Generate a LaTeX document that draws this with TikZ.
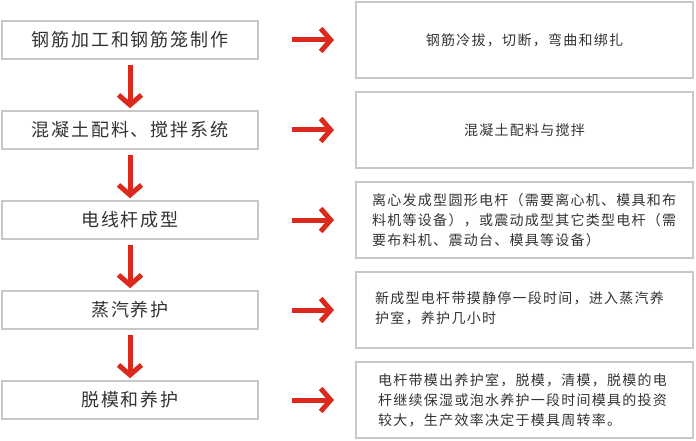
\documentclass[tikz,border=0pt]{standalone}
\usepackage{fontspec}
\setmainfont{Noto Sans CJK SC}
\newfontfamily\stepfont[LetterSpace=10]{Noto Sans CJK SC}
\newfontfamily\notefont[LetterSpace=9]{Noto Sans CJK SC}
\usepackage{xcolor}
\usepackage{tikz}
\usetikzlibrary{positioning, arrows.meta}

\definecolor{arrowred}{RGB}{220,41,30}
\definecolor{boxgray}{RGB}{200,200,200}
\definecolor{textgray}{RGB}{51,51,51}

\begin{document}
\begin{tikzpicture}[x=1pt,y=-1pt,
  procbox/.style={draw=boxgray, line width=2pt, minimum width=256pt, minimum height=37.5pt,
    inner sep=0pt, outer sep=0pt, text=textgray, font=\stepfont\fontsize{18}{20}\selectfont},
  notebox/.style={draw=boxgray, line width=2pt, minimum width=337pt, minimum height=76.5pt,
    inner sep=0pt, outer sep=0pt, text=textgray, font=\notefont\fontsize{14}{20}\selectfont},
  notetext/.style={anchor=west, inner sep=0pt, align=left, text=textgray,
    font=\notefont\fontsize{14}{20}\selectfont},
  flowarrow/.style={draw=arrowred, line width=5pt, -{Straight Barb[length=10pt,width=23pt]}}]
\useasboundingbox (0,0) rectangle (696,441);

% left column: steps
\node[procbox] (p1) at (130,40) {钢筋加工和钢筋笼制作};
\node[procbox] (p2) at (130,130) {混凝土配料、搅拌系统};
\node[procbox] (p3) at (130,220) {电线杆成型};
\node[procbox] (p4) at (130,310) {蒸汽养护};
\node[procbox] (p5) at (130,400) {脱模和养护};

% right column: notes
\node[notebox] (n1) at (524.5,40) {钢筋冷拔，切断，弯曲和绑扎};
\node[notebox] (n2) at (524.5,130) {混凝土配料与搅拌};
\node[notebox] (n3) at (524.5,220) {};
\node[notebox] (n4) at (524.5,310) {};
\node[notebox] (n5) at (524.5,400) {};
\node[notetext] (t3) at ([xshift=16pt]n3.west) {离心发成型圆形电杆（需要离心机、模具和布\\料机等设备），或震动成型其它类型电杆（需\\要布料机、震动台、模具等设备）};
\node[notetext] (t4) at ([xshift=19pt,yshift=2pt]n4.west) {新成型电杆带摸静停一段时间，进入蒸汽养\\护室，养护几小时};
\node[notetext] (t5) at ([xshift=22pt]n5.west) {电杆带模出养护室，脱模，清模，脱模的电\\杆继续保湿或泡水养护一段时间模具的投资\\较大，生产效率决定于模具周转率。};

% arrows
\foreach \a/\b in {p1/p2, p2/p3, p3/p4, p4/p5}
  \draw[flowarrow, shorten <=6pt, shorten >=3pt] (\a.south) -- (\b.north);
\foreach \i in {1,...,5}
  \draw[flowarrow, shorten <=34pt, shorten >=22pt] (p\i.east) -- (n\i.west);
\end{tikzpicture}
\end{document}
